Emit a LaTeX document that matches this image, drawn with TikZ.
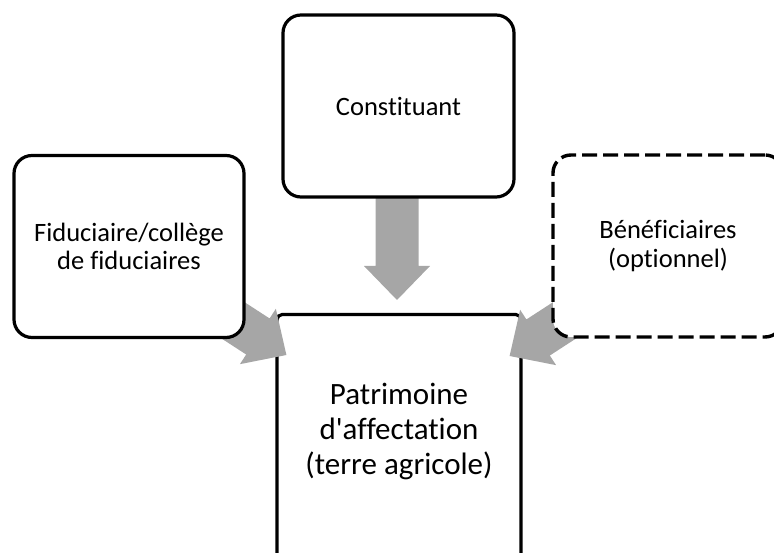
\documentclass[tikz,border=0pt]{standalone}
\usepackage{fontspec}
\setmainfont{Carlito}[Ligatures={NoCommon}]
\definecolor{arrowgray}{HTML}{A6A6A6}
\tikzset{
  box/.style={draw=black, line width=3.2pt, fill=white, rounded corners=18pt,
    minimum width=230pt, minimum height=182pt, align=center, inner sep=0pt,
    font=\fontsize{26.5}{28.5}\selectfont},
  dashbox/.style={box, line width=3.4pt, dash pattern=on 15pt off 6pt},
  basebox/.style={draw=black, line width=3.2pt, fill=white, rounded corners=5pt,
    minimum width=244pt, minimum height=320pt, inner sep=0pt},
  bigtext/.style={align=center, inner sep=0pt, font=\fontsize{31}{35}\selectfont},
  bigarrowfill/.style={fill=arrowgray}
}
\newcommand\bigarrow[3]{% tip coordinate, angle, shaft length
  \fill[bigarrowfill, shift={(#1)}, rotate=#2]
    (0,0) -- (-34,33) -- (-34,21.5) -- (-#3,21.5) -- (-#3,-21.5)
    -- (-34,-21.5) -- (-34,-33) -- cycle;}
\begin{document}
\begin{tikzpicture}[x=1pt,y=1pt]
\useasboundingbox (0,0) rectangle (774,552);
\clip (0,0) rectangle (774,552);
% base box
\node[basebox, anchor=north] (patr) at (399,239) {};
\node[bigtext] (patrtext) at ([yshift=-119pt]patr.north) {Patrimoine\\d\textquotesingle affectation\\(terre agricole)};
% coordinates of arrow tips (relative to the base box)
\coordinate (tipC) at ([xshift=-2pt,yshift=13pt]patr.north);
\coordinate (tipL) at ([xshift=11pt,yshift=-42pt]patr.north west);
\coordinate (tipR) at ([xshift=-13pt,yshift=-43pt]patr.north east);
% boxes positions
\coordinate (cC) at (398.5,446);
\coordinate (cL) at (129,305.5);
\coordinate (cR) at (668,306);
% arrows
\bigarrow{tipC}{-90}{190}
\bigarrow{tipL}{-33}{190}
\bigarrow{tipR}{213}{190}
% upper boxes
\node[box, minimum width=231pt] (const) at (cC) {Constituant};
\node[box] (fid) at (cL) {Fiduciaire/collège\\de fiduciaires};
\node[dashbox] (benef) at (cR) {Bénéficiaires\\(optionnel)};
\end{tikzpicture}
\end{document}
